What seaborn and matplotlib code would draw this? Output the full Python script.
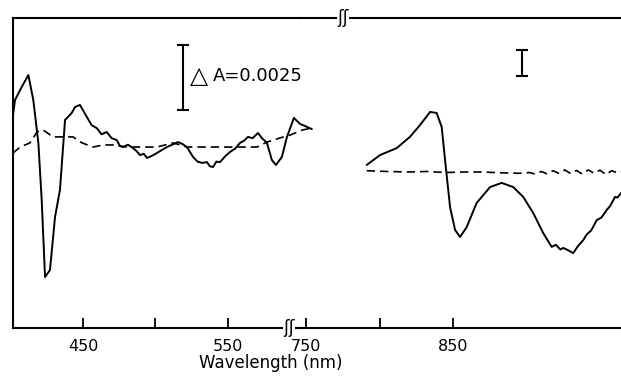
import pandas as pd
import seaborn as sns
import matplotlib.pyplot as plt

# left panel (Soret / visible region), solid = light-minus-dark, dashed = control
wl_vis = [401.7, 403.1, 407.7, 412.3, 415.7, 419.2, 421.5, 423.8, 427.2, 430.7,
          434.1, 437.6, 442.2, 444.5, 447.9, 452.6, 456.0, 459.4, 462.8, 466.3,
          469.8, 473.2, 475.5, 477.6, 481.0, 484.5, 487.0, 489.3, 492.0, 494.1,
          497.5, 501.0, 504.5, 507.9, 511.5, 515.5, 518.5, 521.7, 525.9, 529.0,
          532.1, 535.5, 537.5, 539.7, 542.0, 544.5, 548.0, 551.4, 555.0, 558.3,
          561.0, 563.8, 567.0, 570.7, 573.5, 576.9, 580.3, 583.1, 587.2, 590.7,
          595.5, 599.7, 603.1, 607.9]
dA_vis = [8.19, 8.77, 9.27, 9.73, 8.77, 7.12, 4.92, 1.96, 2.23, 4.27,
          5.31, 8.00, 8.27, 8.50, 8.58, 8.12, 7.80, 7.69, 7.45, 7.54,
          7.30, 7.23, 7.00, 6.96, 7.05, 6.92, 6.80, 6.65, 6.70, 6.54,
          6.62, 6.73, 6.85, 6.96, 7.05, 7.15, 7.08, 6.96, 6.58, 6.40,
          6.35, 6.38, 6.22, 6.19, 6.40, 6.38, 6.60, 6.77, 6.90, 7.12,
          7.20, 7.35, 7.30, 7.50, 7.30, 7.12, 6.46, 6.27, 6.58, 7.35,
          8.08, 7.85, 7.77, 7.65]

wl_vis_ctrl = [401.7, 406.6, 413.4, 418.3, 422.4, 429.3, 436.2, 443.1, 449.3, 456.9,
               463.8, 470.7, 480.3, 489.3, 501.0, 512.1, 521.7, 530.7, 539.7, 551.4,
               560.3, 570.0, 576.9, 585.9, 592.8, 601.7, 607.9]
dA_vis_ctrl = [6.73, 6.96, 7.12, 7.54, 7.62, 7.35, 7.35, 7.35, 7.12, 6.96,
               7.04, 7.04, 6.96, 6.96, 6.96, 7.12, 6.96, 6.96, 6.96, 6.96,
               6.96, 6.96, 7.15, 7.31, 7.42, 7.62, 7.69]

# right panel (near-IR region)
wl_nir = [791.3, 800.3, 811.7, 820.7, 827.6, 834.4, 838.9, 842.3, 844.6, 848.0,
          851.4, 854.8, 859.3, 866.1, 875.2, 883.1, 891.0, 897.8, 904.6, 911.4,
          917.1, 920.0, 923.0, 925.0, 928.0, 931.8, 935.0, 938.6, 941.0, 944.0,
          947.8, 951.0, 954.6, 957.0, 960.2, 962.0, 964.3]
dA_nir = [6.27, 6.65, 6.92, 7.35, 7.81, 8.31, 8.27, 7.73, 6.46, 4.65,
          3.77, 3.50, 3.88, 4.81, 5.42, 5.58, 5.42, 5.04, 4.42, 3.65,
          3.12, 3.20, 3.02, 3.08, 3.00, 2.88, 3.15, 3.38, 3.60, 3.75,
          4.15, 4.25, 4.54, 4.70, 5.04, 5.02, 5.19]

wl_nir_ctrl = [791.3, 805.0, 820.0, 832.0, 845.0, 858.0, 870.0, 882.0, 895.0, 902.0,
               906.0, 910.0, 914.0, 918.0, 922.0, 926.0, 930.0, 934.0, 938.0, 942.0,
               946.0, 950.0, 954.0, 958.0, 962.0, 964.3]
dA_nir_ctrl = [6.05, 6.02, 6.0, 6.02, 5.98, 6.0, 6.0, 5.97, 5.95, 5.98,
               5.92, 6.02, 5.93, 6.05, 5.95, 6.08, 5.94, 6.06, 5.92, 6.08,
               5.95, 6.07, 5.90, 6.05, 5.96, 6.00]

sns.set_style("white")
plt.rcParams['font.family'] = ['DejaVu Sans']
plt.rcParams['text.color'] = 'black'

fig = plt.figure(figsize=(6.21, 3.81), dpi=100)
ax1 = fig.add_axes([13/621, 53/381, 287/621, 310/381])
ax2 = fig.add_axes([300/621, 53/381, 321/621, 310/381], sharey=ax1)
ax2.patch.set_visible(False)

vis = pd.DataFrame({'wl': wl_vis, 'dA': dA_vis})
vis_c = pd.DataFrame({'wl': wl_vis_ctrl, 'dA': dA_vis_ctrl})
nir = pd.DataFrame({'wl': wl_nir, 'dA': dA_nir})
nir_c = pd.DataFrame({'wl': wl_nir_ctrl, 'dA': dA_nir_ctrl})

sns.lineplot(data=vis, x='wl', y='dA', ax=ax1, color='black', lw=1.4, clip_on=False)
sns.lineplot(data=vis_c, x='wl', y='dA', ax=ax1, color='black', lw=1.2,
             linestyle=(0, (5, 3)), clip_on=False)
sns.lineplot(data=nir, x='wl', y='dA', ax=ax2, color='black', lw=1.4)
sns.lineplot(data=nir_c, x='wl', y='dA', ax=ax2, color='black', lw=1.2,
             linestyle=(0, (5, 3)))

ax1.set_xlim(401.7, 599.7)
ax2.set_xlim(745.9, 964.3)
ax1.set_ylim(0, 310/26)

# scale bars
ax1.errorbar([519], [9.63], yerr=[1.25], color='black', lw=1.5, capsize=4.5, capthick=1.5)
ax1.text(523.5, 9.69, '\u25b3', fontsize=17, va='center', ha='left', color='black')
ax1.text(539.5, 9.69, 'A=0.0025', fontsize=13, va='center', ha='left', color='black')
ax2.errorbar([897], [10.19], yerr=[0.5], color='black', lw=1.5, capsize=4, capthick=1.5)

for ax in (ax1, ax2):
    ax.set_xlabel('')
    ax.set_ylabel('')
    ax.set_yticks([])
    ax.spines['right'].set_visible(False)
    for s in ('top', 'bottom', 'left'):
        ax.spines[s].set_linewidth(1.5)
        ax.spines[s].set_color('black')
    ax.tick_params(axis='x', direction='in', length=7, width=1.3, pad=8,
                   labelsize=11.5, bottom=True, colors='black')
ax2.spines['left'].set_visible(False)

ax1.set_xticks([450, 500, 550], ['450', '', '550'])
ax2.set_xticks([750, 800, 850], ['750', '', '850'])

# axis break marks
fig.text(289/621, 1 - 328/381, '\u0283\u0283', fontsize=12, ha='center', va='center',
         bbox=dict(facecolor='white', edgecolor='none', pad=0))
fig.text(343/621, 1 - 18/381, '\u0283\u0283', fontsize=12, ha='center', va='center',
         bbox=dict(facecolor='white', edgecolor='none', pad=0))

fig.text(271/621, 1 - 363/381, 'Wavelength (nm)', fontsize=12, ha='center', va='center',
         color='black')

fig.savefig('out.png', dpi=100)
